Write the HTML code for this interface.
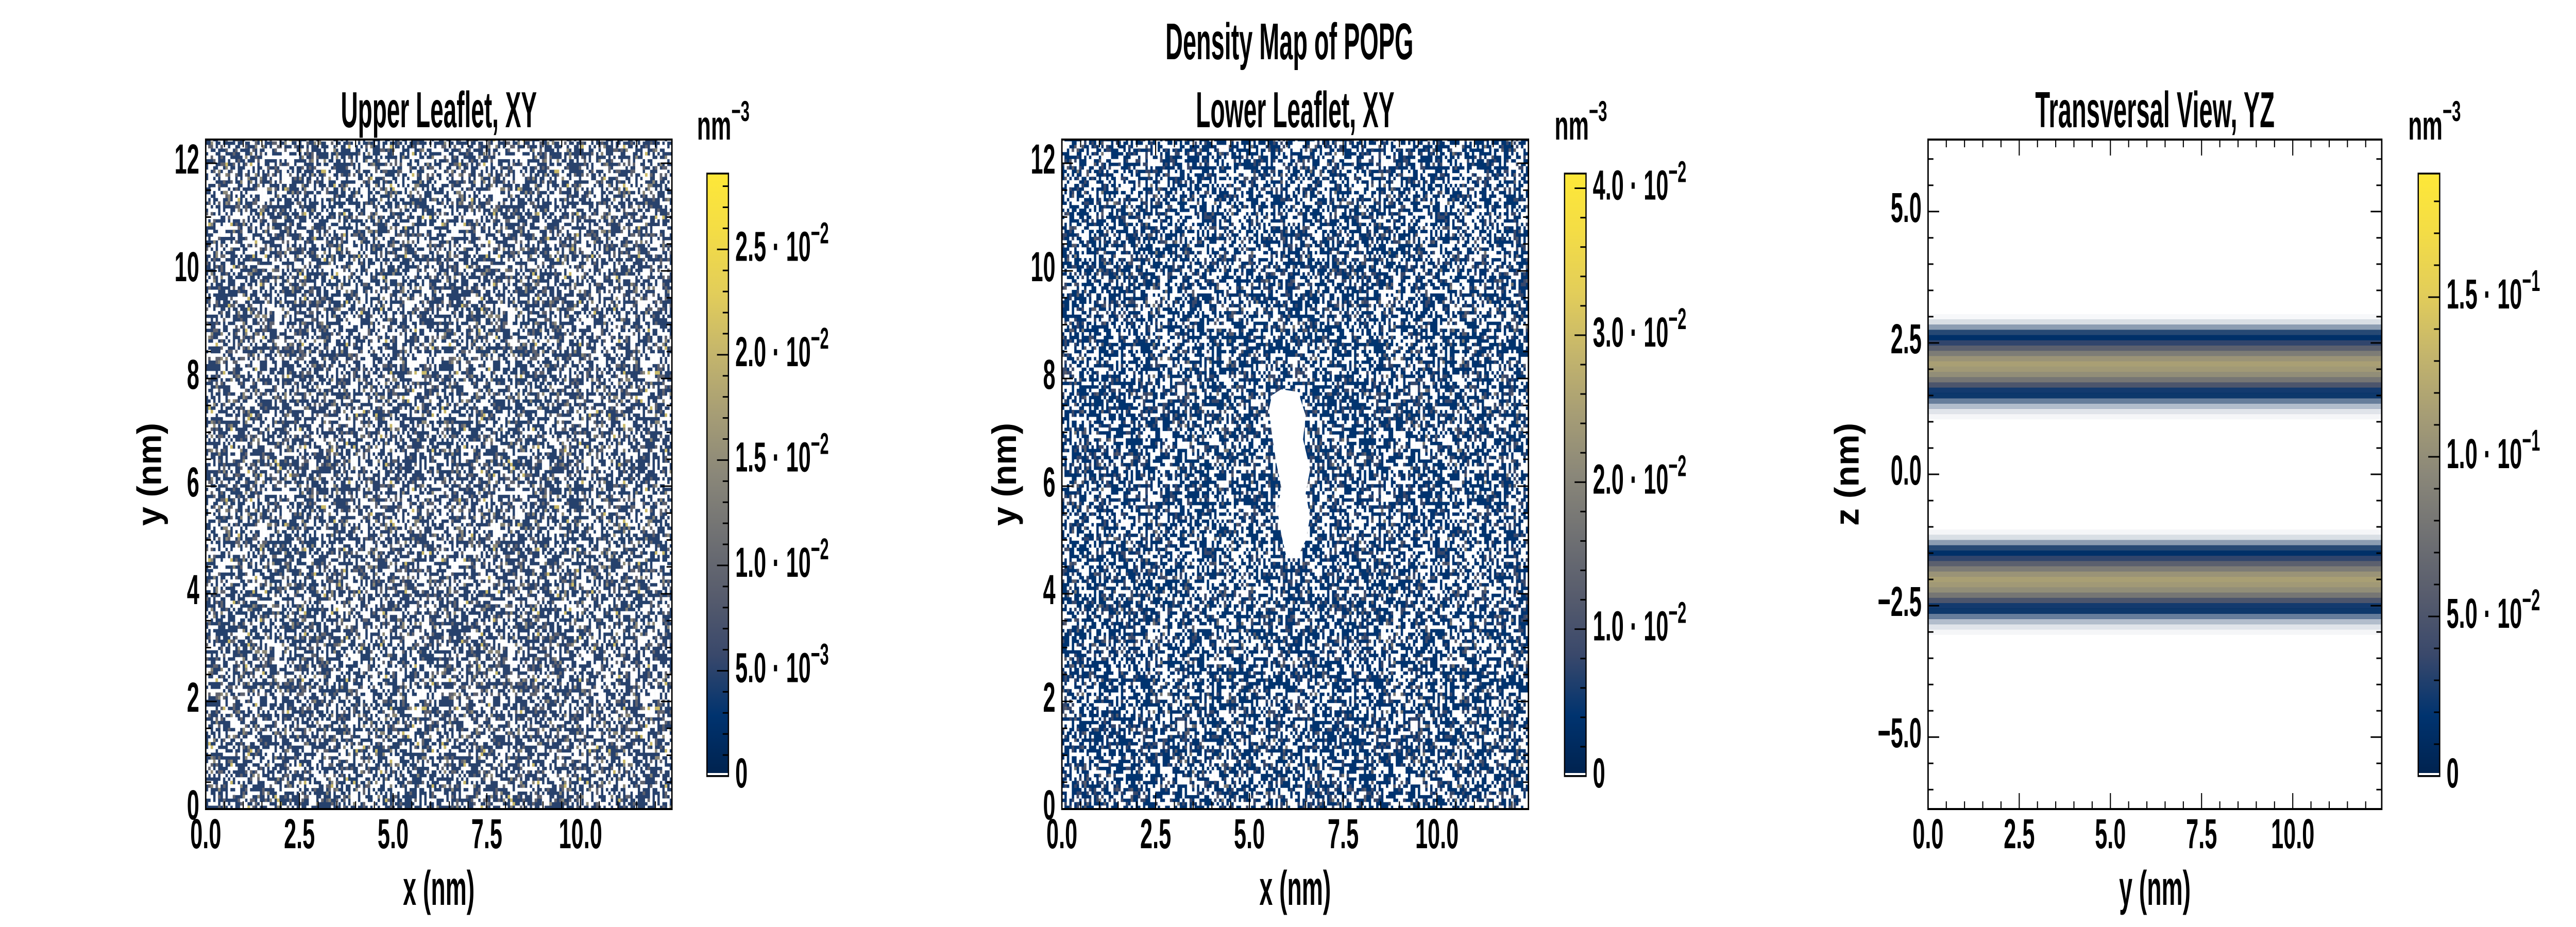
<!DOCTYPE html>
<html><head><meta charset="utf-8"><title>Density Map of POPG</title>
<style>
html,body{margin:0;padding:0;background:#fff;width:100%;height:100%;overflow:hidden;}
svg{display:block;position:fixed;left:0;top:0;width:100vw;height:100vh;}
text{font-family:"Liberation Sans Narrow","Liberation Sans",sans-serif;font-weight:bold;fill:#000;}
</style></head>
<body>
<svg id="fig" xmlns="http://www.w3.org/2000/svg" viewBox="0 0 7200 1800" preserveAspectRatio="none" overflow="hidden"></svg>
<script>
// ---------- data ----------
// Upper leaflet XY: coarse mean density of occupied bins (nm^-3), 4x4 blocks (rows bottom->top)
const upperXYMean = [
  [0.0048,0.0047,0.0049,0.0048],
  [0.0047,0.0049,0.0048,0.0047],
  [0.0049,0.0048,0.0047,0.0048],
  [0.0048,0.0047,0.0048,0.0049]
];
// Lower leaflet XY
const lowerXYMean = [
  [0.0041,0.0040,0.0041,0.0040],
  [0.0040,0.0042,0.0041,0.0041],
  [0.0041,0.0042,0.0042,0.0040],
  [0.0040,0.0041,0.0040,0.0041]
];
// Empty region (pore) in lower leaflet, nm
const holeX = [5.85,6.30,6.50,6.43,6.62,6.50,6.62,6.50,6.30,5.98,5.85,5.75,5.85,5.72,5.62,5.52,5.60];
const holeY = [7.80,7.75,7.31,6.87,6.31,5.87,5.43,4.99,4.71,4.71,5.10,5.54,5.98,6.42,6.87,7.42,7.69];
// Transversal YZ profile: z bin centres (nm), density and fraction of occupied bins
const upperZ   = [3.0,2.9,2.8,2.7,2.6,2.5,2.4,2.3,2.2,2.1,2.0,1.9,1.8,1.7,1.6,1.5,1.4,1.3,1.2,1.1];
const upperRho = [0.002,0.003,0.004,0.008,0.015,0.035,0.06,0.085,0.105,0.115,0.11,0.10,0.08,0.05,0.025,0.012,0.006,0.004,0.003,0.002];
const upperCov = [0.03,0.15,0.45,0.85,1,1,1,1,1,1,1,1,1,1,1,0.95,0.6,0.3,0.12,0.04];
const lowerZ   = [-1.1,-1.2,-1.3,-1.4,-1.5,-1.6,-1.7,-1.8,-1.9,-2.0,-2.1,-2.2,-2.3,-2.4,-2.5,-2.6,-2.7,-2.8,-2.9,-3.0];
const lowerRho = [0.002,0.003,0.004,0.008,0.015,0.035,0.06,0.085,0.105,0.115,0.11,0.10,0.08,0.05,0.025,0.012,0.006,0.004,0.003,0.002];
const lowerCov = [0.04,0.15,0.45,0.85,1,1,1,1,1,1,1,1,1,1,1,0.95,0.6,0.3,0.12,0.04];
// Axis ticks
const xyXTicks = [0,2.5,5,7.5,10];
const xyXTickLabels = ["0.0","2.5","5.0","7.5","10.0"];
const xyYTicks = [0,2,4,6,8,10,12];
const xyYTickLabels = ["0","2","4","6","8","10","12"];
const yzZTicks = [-5,-2.5,0,2.5,5];
const yzZTickLabels = ["\u22125.0","\u22122.5","0.0","2.5","5.0"];
// Colorbars
const cb1Max = 0.0286, cb2Max = 0.041, cb3Max = 0.1887;
const cb1Ticks = [0,0.005,0.01,0.015,0.02,0.025];
const cb1Mant = ["0","5.0","1.0","1.5","2.0","2.5"];
const cb1Exp  = ["","\u22123","\u22122","\u22122","\u22122","\u22122"];
const cb2Ticks = [0,0.01,0.02,0.03,0.04];
const cb2Mant = ["0","1.0","2.0","3.0","4.0"];
const cb2Exp  = ["","\u22122","\u22122","\u22122","\u22122"];
const cb3Ticks = [0,0.05,0.1,0.15];
const cb3Mant = ["0","5.0","1.0","1.5"];
const cb3Exp  = ["","\u22122","\u22121","\u22121"];

// ---------- helpers ----------
const NS = "http://www.w3.org/2000/svg";
const fig = document.getElementById('fig');
const CIV = [[0,0,34,78],[0.1,0,51,111],[0.2,57,72,107],[0.3,87,92,109],[0.4,112,113,115],[0.5,138,135,121],[0.6,166,157,117],[0.7,196,181,108],[0.8,226,205,90],[0.9,243,220,70],[1,254,232,56]];
function cmap(t){t=Math.max(0,Math.min(1,t));for(let i=1;i<CIV.length;i++){if(t<=CIV[i][0]){const a=CIV[i-1],b=CIV[i];const f=(t-a[0])/(b[0]-a[0]);return 'rgb('+[1,2,3].map(k=>Math.round(a[k]+(b[k]-a[k])*f)).join(',')+')';}}return 'rgb(254,232,56)';}
function mk(tag,attrs,parent){const e=document.createElementNS(NS,tag);for(const k in attrs)e.setAttribute(k,attrs[k]);(parent||fig).appendChild(e);return e;}
function label(x,y,s,size,anchor,sx,parent){const t=mk('text',{'font-size':size,'text-anchor':anchor,transform:'translate('+x+','+y+') scale('+sx+',1)'},parent);t.textContent=s;return t;}
function lin(d0,d1,r0,r1){return v=>r0+(v-d0)/(d1-d0)*(r1-r0);}

const Y0=271, Y1=1571;
const panels=[
 {x0:575,x1:1878,xmax:12.44,ymin:0,ymax:12.44,cbx:1976,cbMax:cb1Max},
 {x0:2968,x1:4272,xmax:12.44,ymin:0,ymax:12.44,cbx:4373,cbMax:cb2Max},
 {x0:5389,x1:6657,xmax:12.44,ymin:-6.37,ymax:6.37,cbx:6759,cbMax:cb3Max}
];

// speckle texture (empty bins + multi-count bins) for XY maps — decorative
function hash(i,j,s){let h=Math.imul(i+1,0x9E3779B1)^Math.imul(j+7,0x85EBCA77)^Math.imul(s+13,0xC2B2AE3D);
  h^=h>>>15;h=Math.imul(h,0x2C1B3C6D);h^=h>>>12;h=Math.imul(h,0x297A2D39);h^=h>>>15;return (h>>>0)/4294967296;}
const defs=mk('defs',{});
function speckle(id,x0,y0,base,max,seed){
  const N=95,c=6.86;
  const p=mk('pattern',{id:id,patternUnits:'userSpaceOnUse',x:x0,y:y0,width:N*c,height:N*c},defs);
  for(let i=0;i<N;i++)for(let j=0;j<N;j++){const h=hash(i,j,seed);let col=null;
    if(h<0.42)col='#fff';else if(h<0.51)col=cmap(2*base/max);else if(h<0.54)col=cmap(3*base/max);else if(h<0.55)col=cmap(4.3*base/max);
    if(col)mk('rect',{x:(i*c).toFixed(2),y:(j*c).toFixed(2),width:c+0.3,height:c+0.3,fill:col},p);}
}

// ---------- titles ----------
const sup=label(3604,115,"Density Map of POPG",100,'middle',1,fig);
sup.setAttribute('textLength','693');sup.setAttribute('lengthAdjust','spacingAndGlyphs');



const titles=["Upper Leaflet, XY","Lower Leaflet, XY","Transversal View, YZ"];
const titleW=[548,555,669];
const xLabels=["x (nm)","x (nm)","y (nm)"];
const yLabels=["y (nm)","y (nm)","z (nm)"];
const yLabelOff=[125,128,194];
const heat=[upperXYMean,lowerXYMean];

panels.forEach((P,pi)=>{
  const g=mk('g',{});
  
  
  const sx=lin(0,P.xmax,P.x0,P.x1), sy=lin(P.ymin,P.ymax,Y1,Y0);
  const clipId='clip'+pi;
  const cp=mk('clipPath',{id:clipId},defs);mk('rect',{x:P.x0,y:Y0,width:P.x1-P.x0,height:Y1-Y0},cp);
  const hm=mk('g',{'clip-path':'url(#'+clipId+')'},g);
  
  
  if(pi<2){
    const grid=heat[pi];const n=grid.length;const cw=P.xmax/n;let sum=0;
    grid.forEach((row,r)=>row.forEach((v,c)=>{sum+=v;
      const cell=mk('rect',{x:sx(c*cw),y:sy((r+1)*cw),width:sx((c+1)*cw)-sx(c*cw)+0.5,height:sy(r*cw)-sy((r+1)*cw)+0.5,fill:cmap(v/P.cbMax)},hm);
      
      
    }));
    const mean=sum/(n*n);
    speckle('sp'+pi,P.x0,Y1,mean,P.cbMax,pi+7);
    const tex=mk('rect',{x:P.x0,y:Y0,width:P.x1-P.x0,height:Y1-Y0,fill:'url(#sp'+pi+')'},hm);
    
    
    if(pi===1){
      const pts=holeX.map((x,k)=>sx(x).toFixed(1)+','+sy(holeY[k]).toFixed(1)).join(' ');
      const hole=mk('polygon',{points:pts,fill:'#fff'},hm);
      
      
    }
  } else {
    const bw=0.1;
    [[upperZ,upperRho,upperCov],[lowerZ,lowerRho,lowerCov]].forEach(([Z,R,C],bi)=>{
      const band=mk('g',{},hm);
      
      
      Z.forEach((z,k)=>{
        const row=mk('rect',{x:P.x0,y:sy(z+bw/2),width:P.x1-P.x0,height:sy(z-bw/2)-sy(z+bw/2)+0.5,fill:cmap(R[k]/P.cbMax),'fill-opacity':C[k]},band);
        
        
      });
    });
  }
  // ticks
  const tk=mk('g',{stroke:'#000','stroke-width':3},g);
  
  
  for(let v=0;v<=P.xmax+1e-6;v+=0.5){const major=Math.abs(v/2.5-Math.round(v/2.5))<1e-6;const L=major?31:15;const x=sx(v);
    mk('line',{x1:x,y1:Y1,x2:x,y2:Y1-L},tk);mk('line',{x1:x,y1:Y0,x2:x,y2:Y0+L},tk);}
  const yMajor=pi<2?2:2.5;
  for(let v=Math.ceil(P.ymin*2)/2;v<=P.ymax+1e-6;v+=0.5){const major=Math.abs(v/yMajor-Math.round(v/yMajor))<1e-6;const L=major?31:15;const y=sy(v);
    mk('line',{x1:P.x0,y1:y,x2:P.x0+L,y2:y},tk);mk('line',{x1:P.x1,y1:y,x2:P.x1-L,y2:y},tk);}
  const frame=mk('rect',{x:P.x0,y:Y0,width:P.x1-P.x0,height:Y1-Y0,fill:'none',stroke:'#000','stroke-width':4},g);
  
  
  // tick labels
  xyXTicks.forEach((v,k)=>{const t=label(sx(v),1647,xyXTickLabels[k],82,'middle',0.76,g);
    
    });
  const yt=pi<2?xyYTicks:yzZTicks, yl=pi<2?xyYTickLabels:yzZTickLabels;
  yt.forEach((v,k)=>{const t=label(P.x0-18,sy(v)+20,yl[k],82,'end',0.76,g);
    
    });
  // titles and labels
  const cx=(P.x0+P.x1)/2;
  const tt=label(cx,247,titles[pi],98,'middle',1,g);tt.setAttribute('textLength',titleW[pi]);tt.setAttribute('lengthAdjust','spacingAndGlyphs');
  
  
  const xl=label(cx,1757,xLabels[pi],95,'middle',1,g);xl.setAttribute('textLength','200');xl.setAttribute('lengthAdjust','spacingAndGlyphs');
  
  
  const yx=P.x0-yLabelOff[pi], yc=(Y0+Y1)/2;
  const ylab=mk('text',{'font-size':95,'text-anchor':'middle',transform:'translate('+yx+','+yc+') rotate(-90)',textLength:200,lengthAdjust:'spacingAndGlyphs'},g);
  ylab.textContent=yLabels[pi];
  
  
  // colorbar
  const CB0=337, CB1=1507, cw=60;
  const cbg=mk('g',{},g);
  
  
  const gid='grad'+pi;
  const lg=mk('linearGradient',{id:gid,x1:0,y1:1,x2:0,y2:0},defs);
  CIV.forEach(s=>mk('stop',{offset:s[0],'stop-color':'rgb('+s[1]+','+s[2]+','+s[3]+')'},lg));
  mk('rect',{x:P.cbx,y:CB0,width:cw,height:CB1-CB0,fill:'url(#'+gid+')'},cbg);
  mk('rect',{x:P.cbx,y:CB1-6,width:cw,height:4,fill:'#fff'},cbg);
  const cs=lin(0,P.cbMax,CB1,CB0);
  const minorStep=[0.001,0.002,0.01][pi], majorStep=[0.005,0.01,0.05][pi];
  for(let v=minorStep;v<=P.cbMax;v+=minorStep){const maj=Math.abs(v/majorStep-Math.round(v/majorStep))<1e-6;const L=maj?32:16;
    mk('line',{x1:P.cbx+cw,y1:cs(v),x2:P.cbx+cw-L,y2:cs(v),stroke:'#000','stroke-width':3},cbg);}
  mk('rect',{x:P.cbx,y:CB0,width:cw,height:CB1-CB0,fill:'none',stroke:'#000','stroke-width':3.5},cbg);
  const cbT=[cb1Ticks,cb2Ticks,cb3Ticks][pi],cbM=[cb1Mant,cb2Mant,cb3Mant][pi],cbE=[cb1Exp,cb2Exp,cb3Exp][pi];
  cbT.forEach((v,k)=>{
    const t=mk('text',{'font-size':82,transform:'translate('+(P.cbx+cw+19)+','+(cs(v)+22)+') scale(0.76,1)'},cbg);
    
    
    if(cbE[k]===''){t.textContent=cbM[k];}
    else{const a=mk('tspan',{},t);a.textContent=cbM[k]+' \u00b7 10';const b=mk('tspan',{'font-size':58,dy:-34},t);b.textContent=cbE[k];}
  });
  const u=mk('text',{'font-size':80,transform:'translate('+(P.cbx-28)+',271) scale(0.8,1)'},cbg);
  
  
  const u1=mk('tspan',{},u);u1.textContent='nm';
  const u2=mk('tspan',{'font-size':56,dy:-36},u);u2.textContent='\u22123';
});
</script>
</body></html>
